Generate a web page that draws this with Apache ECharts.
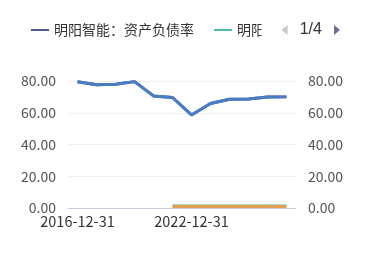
<!DOCTYPE html>
<html><head><meta charset="utf-8">
<script src="https://cdn.jsdelivr.net/npm/echarts@6/dist/echarts.min.js"></script>
<style>html,body{margin:0;padding:0;background:#fff}#c{width:369px;height:276px}</style>
</head><body><div id="c"></div>
<script>
const categories = ['2016-12-31','2017-12-31','2018-12-31','2019-12-31','2020-12-31','2021-12-31','2022-12-31','2023-12-31','2024-12-31','2025-12-31','2026-12-31','2027-12-31'];
const debtRatio = [79.5, 77.6, 78.0, 79.6, 70.6, 69.6, 58.6, 65.8, 68.5, 68.6, 69.9, 70.0];
const debtRatioB = [79.5, 77.6, 78.0, 79.6, 70.6, 69.6, 58.6, 65.8, 68.5, 68.6, 69.9, 70.0];
const seriesTeal = [null, null, null, null, null, 1.5, 1.5, 1.5, 1.5, 1.5, 1.5, 1.5];
const seriesOrange = [null, null, null, null, null, 1.0, 1.0, 1.0, 1.0, 1.0, 1.0, 1.0];
const yTicks = [0, 20, 40, 60, 80];
const names = ['明阳智能：资产负债率','明阳智能：流动比率','明阳智能：速动比率','行业均值：资产负债率'];

const chart = echarts.init(document.getElementById('c'), null, {renderer:'canvas'});
const axisLabel = {color:'#555', fontSize:14, margin:12, fontFamily:'Noto Sans CJK SC, sans-serif', formatter: v => v.toFixed(2)};
chart.setOption({
  animation:false,
  legend:{type:'scroll', top:17, left:26, width:309, icon:'rect', itemWidth:18, itemHeight:2, itemGap:20,
    textStyle:{fontSize:14, color:'#333', fontFamily:'Noto Sans CJK SC, sans-serif'},
    pageIconColor:'#6a6f9a', pageIconInactiveColor:'#c8c8c8', pageIconSize:10, pageButtonItemGap:5,
    pageTextStyle:{fontSize:16, color:'#333'},
    data:names},
  grid:{left:68, right:73, top:81, bottom:68},
  xAxis:{type:'category', data:categories, boundaryGap:true,
    axisLine:{lineStyle:{color:'#c8cce0'}}, axisTick:{show:false},
    axisLabel:{color:'#333', fontSize:14.5, interval:5, margin:6, fontFamily:'Noto Sans CJK SC, sans-serif'}},
  yAxis:[
    {type:'value', min:0, max:80, interval:20, axisLabel:axisLabel, splitLine:{lineStyle:{color:'#f0f0f0'}}, axisLine:{show:false}, axisTick:{show:false}},
    {type:'value', min:0, max:80, interval:20, position:'right', axisLabel:axisLabel, splitLine:{show:false}, axisLine:{show:false}, axisTick:{show:false}}
  ],
  series:[
    {name:names[0], type:'line', data:debtRatio, symbol:'none', color:'#4e5a8c', lineStyle:{width:3}},
    {name:names[1], type:'line', data:seriesTeal, symbol:'none', color:'#4cb9a6', lineStyle:{width:2}},
    {name:names[2], type:'line', data:seriesOrange, symbol:'none', color:'#e0a050', lineStyle:{width:3}},
    {name:names[3], type:'line', data:debtRatioB, symbol:'none', color:'#4a7ec4', lineStyle:{width:3}}
  ]
});
</script></body></html>
